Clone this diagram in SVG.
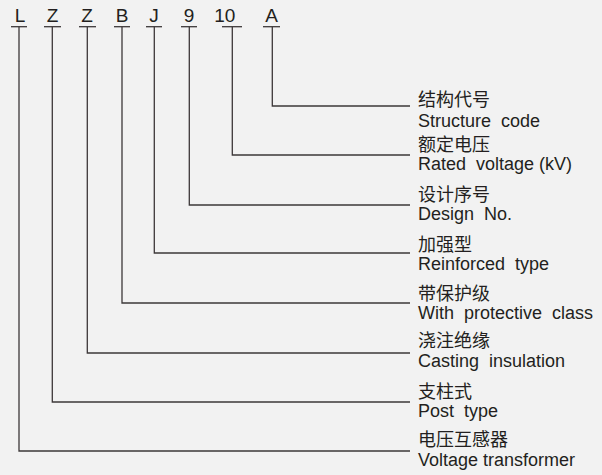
<svg xmlns="http://www.w3.org/2000/svg" width="602" height="475" viewBox="0 0 602 475">
<style>
.bg{fill:#f2f2f2}
.code{font-family:"Liberation Sans",Arial,sans-serif;font-size:19px;fill:#231f20;text-anchor:middle}
.cn{font-family:"Noto Sans CJK SC","Noto Sans",sans-serif;font-size:18px;fill:#231f20}
.en{font-family:"Liberation Sans",Arial,sans-serif;font-size:18px;fill:#231f20}
.ln{fill:none;stroke:#3d3839;stroke-width:1.3}
</style>
<rect class="bg" x="0" y="0" width="602" height="475"/>
<g id="codes">
<g id="code-L"><text class="code" x="20" y="21.5">L</text><line class="ln" x1="11" y1="26.7" x2="27" y2="26.7"/></g>
<g id="code-Z1"><text class="code" x="52.5" y="21.5">Z</text><line class="ln" x1="44" y1="26.7" x2="61" y2="26.7"/></g>
<g id="code-Z2"><text class="code" x="87" y="21.5">Z</text><line class="ln" x1="79" y1="26.7" x2="96" y2="26.7"/></g>
<g id="code-B"><text class="code" x="122" y="21.5">B</text><line class="ln" x1="114" y1="26.7" x2="130" y2="26.7"/></g>
<g id="code-J"><text class="code" x="154" y="21.5">J</text><line class="ln" x1="146" y1="26.7" x2="162" y2="26.7"/></g>
<g id="code-9"><text class="code" x="189" y="21.5">9</text><line class="ln" x1="181" y1="26.7" x2="197" y2="26.7"/></g>
<g id="code-10"><text class="code" x="224.7" y="21.5">10</text><line class="ln" x1="222" y1="26.7" x2="242" y2="26.7"/></g>
<g id="code-A"><text class="code" x="271.5" y="21.5">A</text><line class="ln" x1="263" y1="26.7" x2="280" y2="26.7"/></g>
</g>
<g id="connectors">
<path class="ln" d="M272.3 26.7V106H410"/>
<path class="ln" d="M232.3 26.7V155H410"/>
<path class="ln" d="M189.3 26.7V205H410"/>
<path class="ln" d="M154.3 26.7V253H410"/>
<path class="ln" d="M122 26.7V303H410"/>
<path class="ln" d="M87.3 26.7V353H410"/>
<path class="ln" d="M52.3 26.7V402H410"/>
<path class="ln" d="M19 26.7V451H410"/>
</g>
<g id="label-A"><text class="cn" x="418" y="106">结构代号</text><text class="en" x="418" y="127" xml:space="preserve">Structure  code</text></g>
<g id="label-10"><text class="cn" x="418" y="151">额定电压</text><text class="en" x="418" y="170" xml:space="preserve">Rated  voltage (kV)</text></g>
<g id="label-9"><text class="cn" x="418" y="201">设计序号</text><text class="en" x="418" y="220" xml:space="preserve">Design  No.</text></g>
<g id="label-J"><text class="cn" x="418" y="251">加强型</text><text class="en" x="418" y="270" xml:space="preserve">Reinforced  type</text></g>
<g id="label-B"><text class="cn" x="418" y="299.5">带保护级</text><text class="en" x="418" y="318.5" xml:space="preserve">With  protective  class</text></g>
<g id="label-Z2"><text class="cn" x="418" y="347">浇注绝缘</text><text class="en" x="418" y="367" xml:space="preserve">Casting  insulation</text></g>
<g id="label-Z1"><text class="cn" x="418" y="398">支柱式</text><text class="en" x="418" y="417" xml:space="preserve">Post  type</text></g>
<g id="label-L"><text class="cn" x="418" y="446">电压互感器</text><text class="en" x="418" y="466">Voltage transformer</text></g>
</svg>
